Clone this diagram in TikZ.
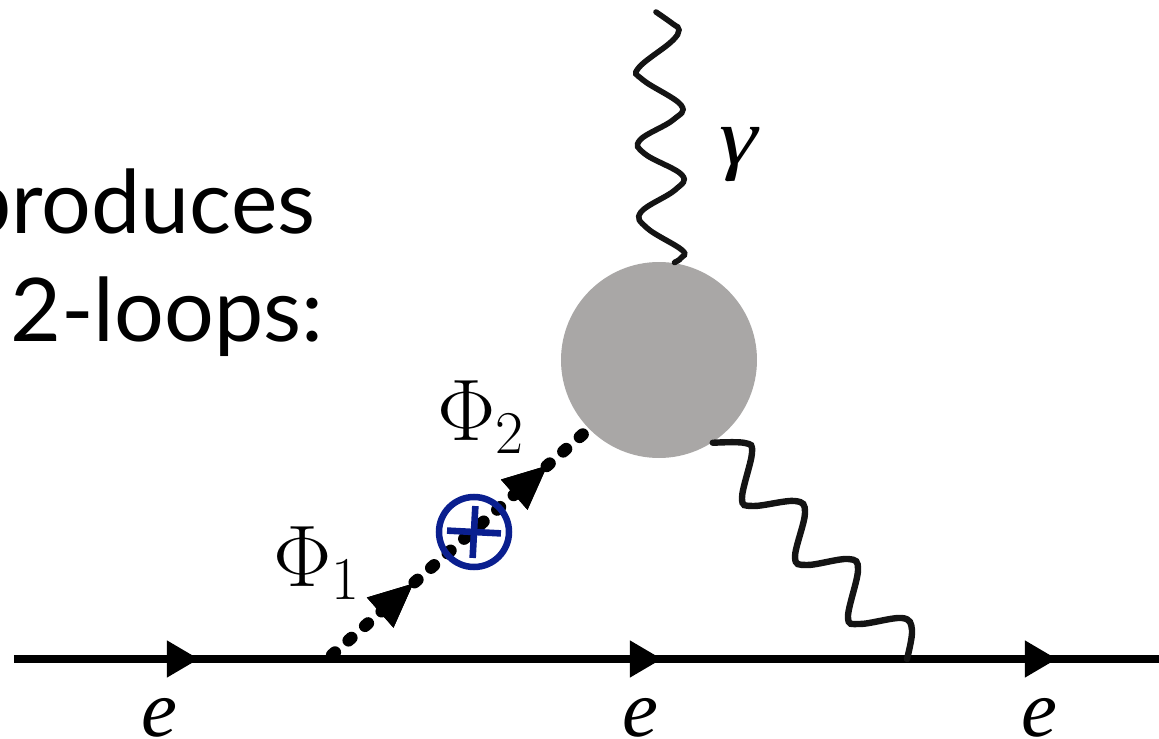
\documentclass[tikz,border=0pt]{standalone}
\usepackage{fontspec}
\usepackage{xcolor}
\usetikzlibrary{arrows.meta,decorations.markings}
\newfontfamily\gillfont{Lato}
\newfontfamily\serifit{Liberation Serif}
\definecolor{pgrey}{HTML}{A9A7A6}
\definecolor{pblue}{HTML}{0A1F8F}

\begin{document}
\begin{tikzpicture}[
  elec/.style={draw=black,line width=0.073cm},
  scal/.style={draw=black,line width=0.122cm,line cap=round,dash pattern=on 0.04cm off 0.18cm},
  phot/.style={draw=black!92,line width=0.056cm,line cap=round},
  blob/.style={circle,fill=pgrey,minimum size=1.96cm,inner sep=0pt},
  ins/.style={circle,draw=pblue,line width=0.065cm,minimum size=0.70cm,inner sep=0pt},
  insbar/.style={draw=pblue,line width=0.066cm},
  ttl/.style={font=\gillfont\fontsize{25}{30}\selectfont,inner sep=0pt,anchor=base east},
  lbl/.style={font=\fontsize{24}{28}\selectfont,inner sep=0pt},
  sym/.style={font=\serifit\itshape\fontsize{23}{28}\selectfont,inner sep=0pt},
  tip/.style={decoration={markings,mark=at position #1 with {\arrow{Triangle[length=0.44cm,width=0.40cm]}}},postaction={decorate}},
  etips/.style={decoration={markings,
      mark=at position 1.85cm with {\arrow{Triangle[length=0.32cm,width=0.35cm]}},
      mark=at position 6.48cm with {\arrow{Triangle[length=0.32cm,width=0.35cm]}},
      mark=at position 10.43cm with {\arrow{Triangle[length=0.32cm,width=0.35cm]}}},postaction={decorate}}]
\useasboundingbox (0,0) rectangle (11.59,7.38);

% ---------------- text on the left ----------------
\node[ttl] (t1) at (3.16,5.05) {produces};
\node[ttl] (t2) at (3.24,3.96) {2-loops:};

% ---------------- electron line ----------------
\coordinate (e0) at (0.14,0.79);
\coordinate (e4) at (9.07,0.79);
\coordinate (e6) at (11.59,0.79);
\draw[elec,etips] (e0) -- (e6);
\node[sym] (l1) at (1.59,0.20) {e};
\node[sym] (l2) at (6.40,0.20) {e};
\node[sym] (l3) at (10.39,0.20) {e};

% ---------------- blob and photons ----------------
\node[blob] (b) at (6.59,3.78) {};
\coordinate (g0) at (6.56,7.26);
\draw[phot] plot[smooth,tension=0.65] coordinates {(g0) (6.73,7.14) (6.79,7.08) (6.71,6.96) (6.385,6.70)
  (6.43,6.58) (6.81,6.33) (6.73,6.18) (6.40,5.98) (6.45,5.84) (6.82,5.63) (6.75,5.48) (6.41,5.26)
  (6.47,5.10) (6.82,4.88) (6.81,4.80) (b.81)};
\draw[phot,line width=0.064cm] plot[smooth,tension=0.6] coordinates {(b.-57) (7.45,2.95) (7.52,2.85) (7.42,2.40) (7.53,2.32)
  (7.95,2.37) (8.05,2.25) (7.95,1.81) (8.07,1.73) (8.48,1.79) (8.58,1.68) (8.48,1.21) (8.60,1.14)
  (9.02,1.20) (9.12,1.08) (e4)};
\node[sym,font=\serifit\itshape\fontsize{23}{28}\selectfont,transform shape,xscale=1.2] (g) at (7.39,5.83) {γ};

% ---------------- scalar line with insertion ----------------
\coordinate (s0) at (3.32,0.83);
\coordinate (s1) at (5.90,3.10);
\draw[scal] (s0) -- (s1);
\path (s0) -- (s1) [tip=0.315,tip=0.835];
\node[lbl] (p1) at (3.17,1.75) {$\Phi_1$};
\node[lbl] (p2) at (4.81,3.21) {$\Phi_2$};

\node[ins] (x) at (4.74,2.06) {};
\draw[insbar] ([shift={(177:0.27)}]x.center) -- ([shift={(-3:0.27)}]x.center);
\draw[insbar] ([shift={(87:0.26)}]x.center) -- ([shift={(267:0.26)}]x.center);
\end{tikzpicture}
\end{document}
